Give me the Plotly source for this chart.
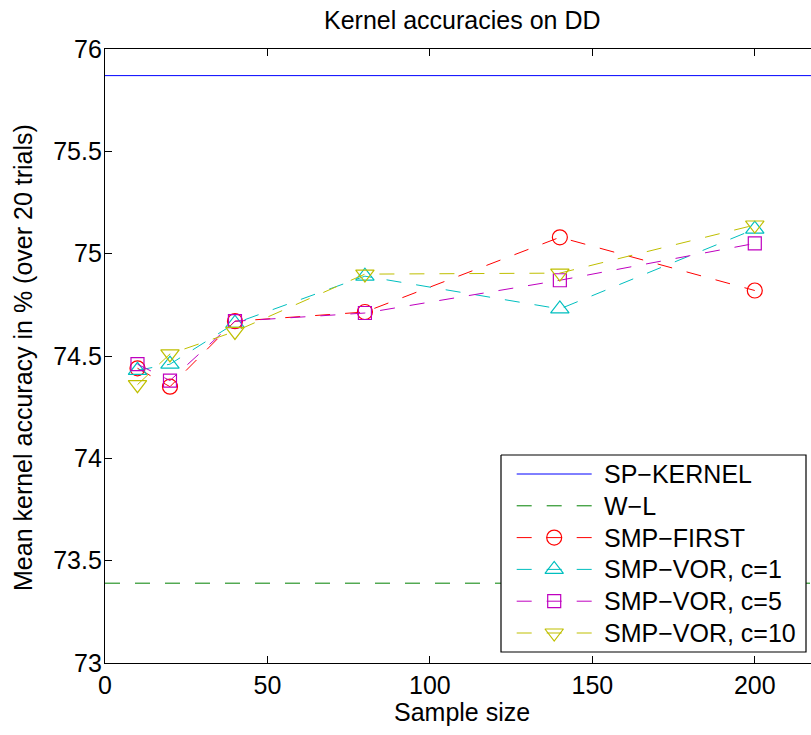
import plotly.graph_objects as go

# Sample sizes used for the sampled kernels
sample_sizes = [10, 20, 40, 80, 140, 200]

# Mean accuracies (%) over 20 trials
smp_first = [74.44, 74.35, 74.67, 74.715, 75.08, 74.82]
smp_vor_c1 = [74.43, 74.46, 74.66, 74.89, 74.73, 75.12]
smp_vor_c5 = [74.46, 74.38, 74.67, 74.71, 74.87, 75.05]
smp_vor_c10 = [74.36, 74.51, 74.62, 74.90, 74.905, 75.14]

# Baselines (constant over sample size)
sp_kernel = 75.87
wl_kernel = 73.39
baseline_span = [0, 220]

x_ticks = [0, 50, 100, 150, 200]
y_ticks = [73, 73.5, 74, 74.5, 75, 75.5, 76]

FONT = "Liberation Sans, Arial, Helvetica, sans-serif"
FS = 25
DASH = "15px,15px"

# Plot-area geometry in pixels
W, H = 811, 735
L, T, B = 105, 49, 72
PW, PH = W - L, H - T - B


def paper_y(py):
    """Convert a pixel row (from the top) to paper coordinates."""
    return (T + PH - py) / PH


def paper_x(px):
    """Convert a pixel column (from the left) to paper coordinates."""
    return (px - L) / PW


BLUE = "rgb(0,0,255)"
GREEN = "rgb(0,128,0)"
RED = "rgb(255,0,0)"
CYAN = "rgb(0,191,191)"
MAGENTA = "rgb(191,0,191)"
OLIVE = "rgb(191,191,0)"

# name, values, colour, dash, marker symbol, marker size
entries = [
    ("SP\u2212KERNEL", None, BLUE, "solid", None, 0),
    ("W\u2212L", None, GREEN, DASH, None, 0),
    ("SMP\u2212FIRST", smp_first, RED, DASH, "circle-open", 15),
    ("SMP\u2212VOR, c=1", smp_vor_c1, CYAN, DASH, "triangle-up-open", 16),
    ("SMP\u2212VOR, c=5", smp_vor_c5, MAGENTA, DASH, "square-open", 13),
    ("SMP\u2212VOR, c=10", smp_vor_c10, OLIVE, DASH, "triangle-down-open", 16),
]

fig = go.Figure()

fig.add_trace(go.Scatter(
    x=baseline_span, y=[sp_kernel] * 2, mode="lines", showlegend=False,
    line=dict(color=BLUE, width=1)))
fig.add_trace(go.Scatter(
    x=baseline_span, y=[wl_kernel] * 2, mode="lines", showlegend=False,
    line=dict(color=GREEN, width=1, dash=DASH)))

for name, vals, color, dash, symbol, size in entries:
    if vals is None:
        continue
    fig.add_trace(go.Scatter(
        x=sample_sizes, y=vals, mode="lines+markers", showlegend=False,
        line=dict(color=color, width=1, dash=dash),
        marker=dict(symbol=symbol, size=size, color=color,
                    line=dict(color=color, width=1.2))))

# Legend box drawn on a pixel-unit overlay (x to the right, y downward)
box_left, box_right, box_top, box_bottom = 501, 806, 455, 652
row0, row_step = 474, 31.8
sample_x0, sample_x1, text_x = 516.7, 591.7, 601.5

legend_axes = dict(xaxis="x2", yaxis="y2")
fig.add_trace(go.Scatter(
    x=[box_left, box_right, box_right, box_left, box_left],
    y=[box_top, box_top, box_bottom, box_bottom, box_top],
    mode="lines", fill="toself", fillcolor="white",
    line=dict(color="black", width=1.2), showlegend=False,
    hoverinfo="skip", **legend_axes))

annotations = []
for i, (name, vals, color, dash, symbol, size) in enumerate(entries):
    ry = row0 + i * row_step
    fig.add_trace(go.Scatter(
        x=[sample_x0, sample_x1], y=[ry, ry], mode="lines",
        line=dict(color=color, width=1, dash=dash), showlegend=False,
        hoverinfo="skip", **legend_axes))
    if symbol:
        fig.add_trace(go.Scatter(
            x=[(sample_x0 + sample_x1) / 2], y=[ry], mode="markers",
            marker=dict(symbol=symbol, size=size, color=color,
                        line=dict(color=color, width=1.2)),
            showlegend=False, hoverinfo="skip", **legend_axes))
    annotations.append(dict(
        text=name, xref="x2", yref="y2", x=text_x, y=ry,
        xanchor="left", yanchor="middle", showarrow=False,
        font=dict(family=FONT, size=FS, color="black")))

axis_common = dict(
    showgrid=False, zeroline=False, showline=True, linecolor="black",
    linewidth=1.3, ticks="inside", ticklen=7, tickwidth=1, tickcolor="black",
    tickfont=dict(family=FONT, size=FS, color="black"))

annotations += [
    dict(text="Kernel accuracies on DD", xref="paper", yref="paper",
         x=paper_x(462.6), y=paper_y(20), xanchor="center", yanchor="middle",
         showarrow=False, font=dict(family=FONT, size=FS)),
    dict(text="Sample size", xref="paper", yref="paper",
         x=paper_x(462), y=paper_y(712), xanchor="center", yanchor="middle",
         showarrow=False, font=dict(family=FONT, size=FS)),
    dict(text="Mean kernel accuracy in % (over 20 trials)", xref="paper",
         yref="paper", x=paper_x(23), y=paper_y(358),
         xanchor="center", yanchor="middle", textangle=-90,
         showarrow=False, font=dict(family=FONT, size=FS)),
]

fig.update_layout(
    width=W, height=H,
    margin=dict(l=L, r=0, t=T, b=B),
    paper_bgcolor="white", plot_bgcolor="white",
    showlegend=False,
    font=dict(family=FONT, size=FS, color="black"),
    xaxis=dict(range=[0, 217.3], tickvals=x_ticks, mirror="ticks", **axis_common),
    yaxis=dict(range=[73, 76], tickvals=y_ticks, mirror=False,
               ticklabelstandoff=-3, **axis_common),
    xaxis2=dict(overlaying="x", range=[L, W], visible=False, fixedrange=True),
    yaxis2=dict(overlaying="y", range=[T + PH, T], visible=False, fixedrange=True),
    annotations=annotations,
)

fig.write_html("out.html")
